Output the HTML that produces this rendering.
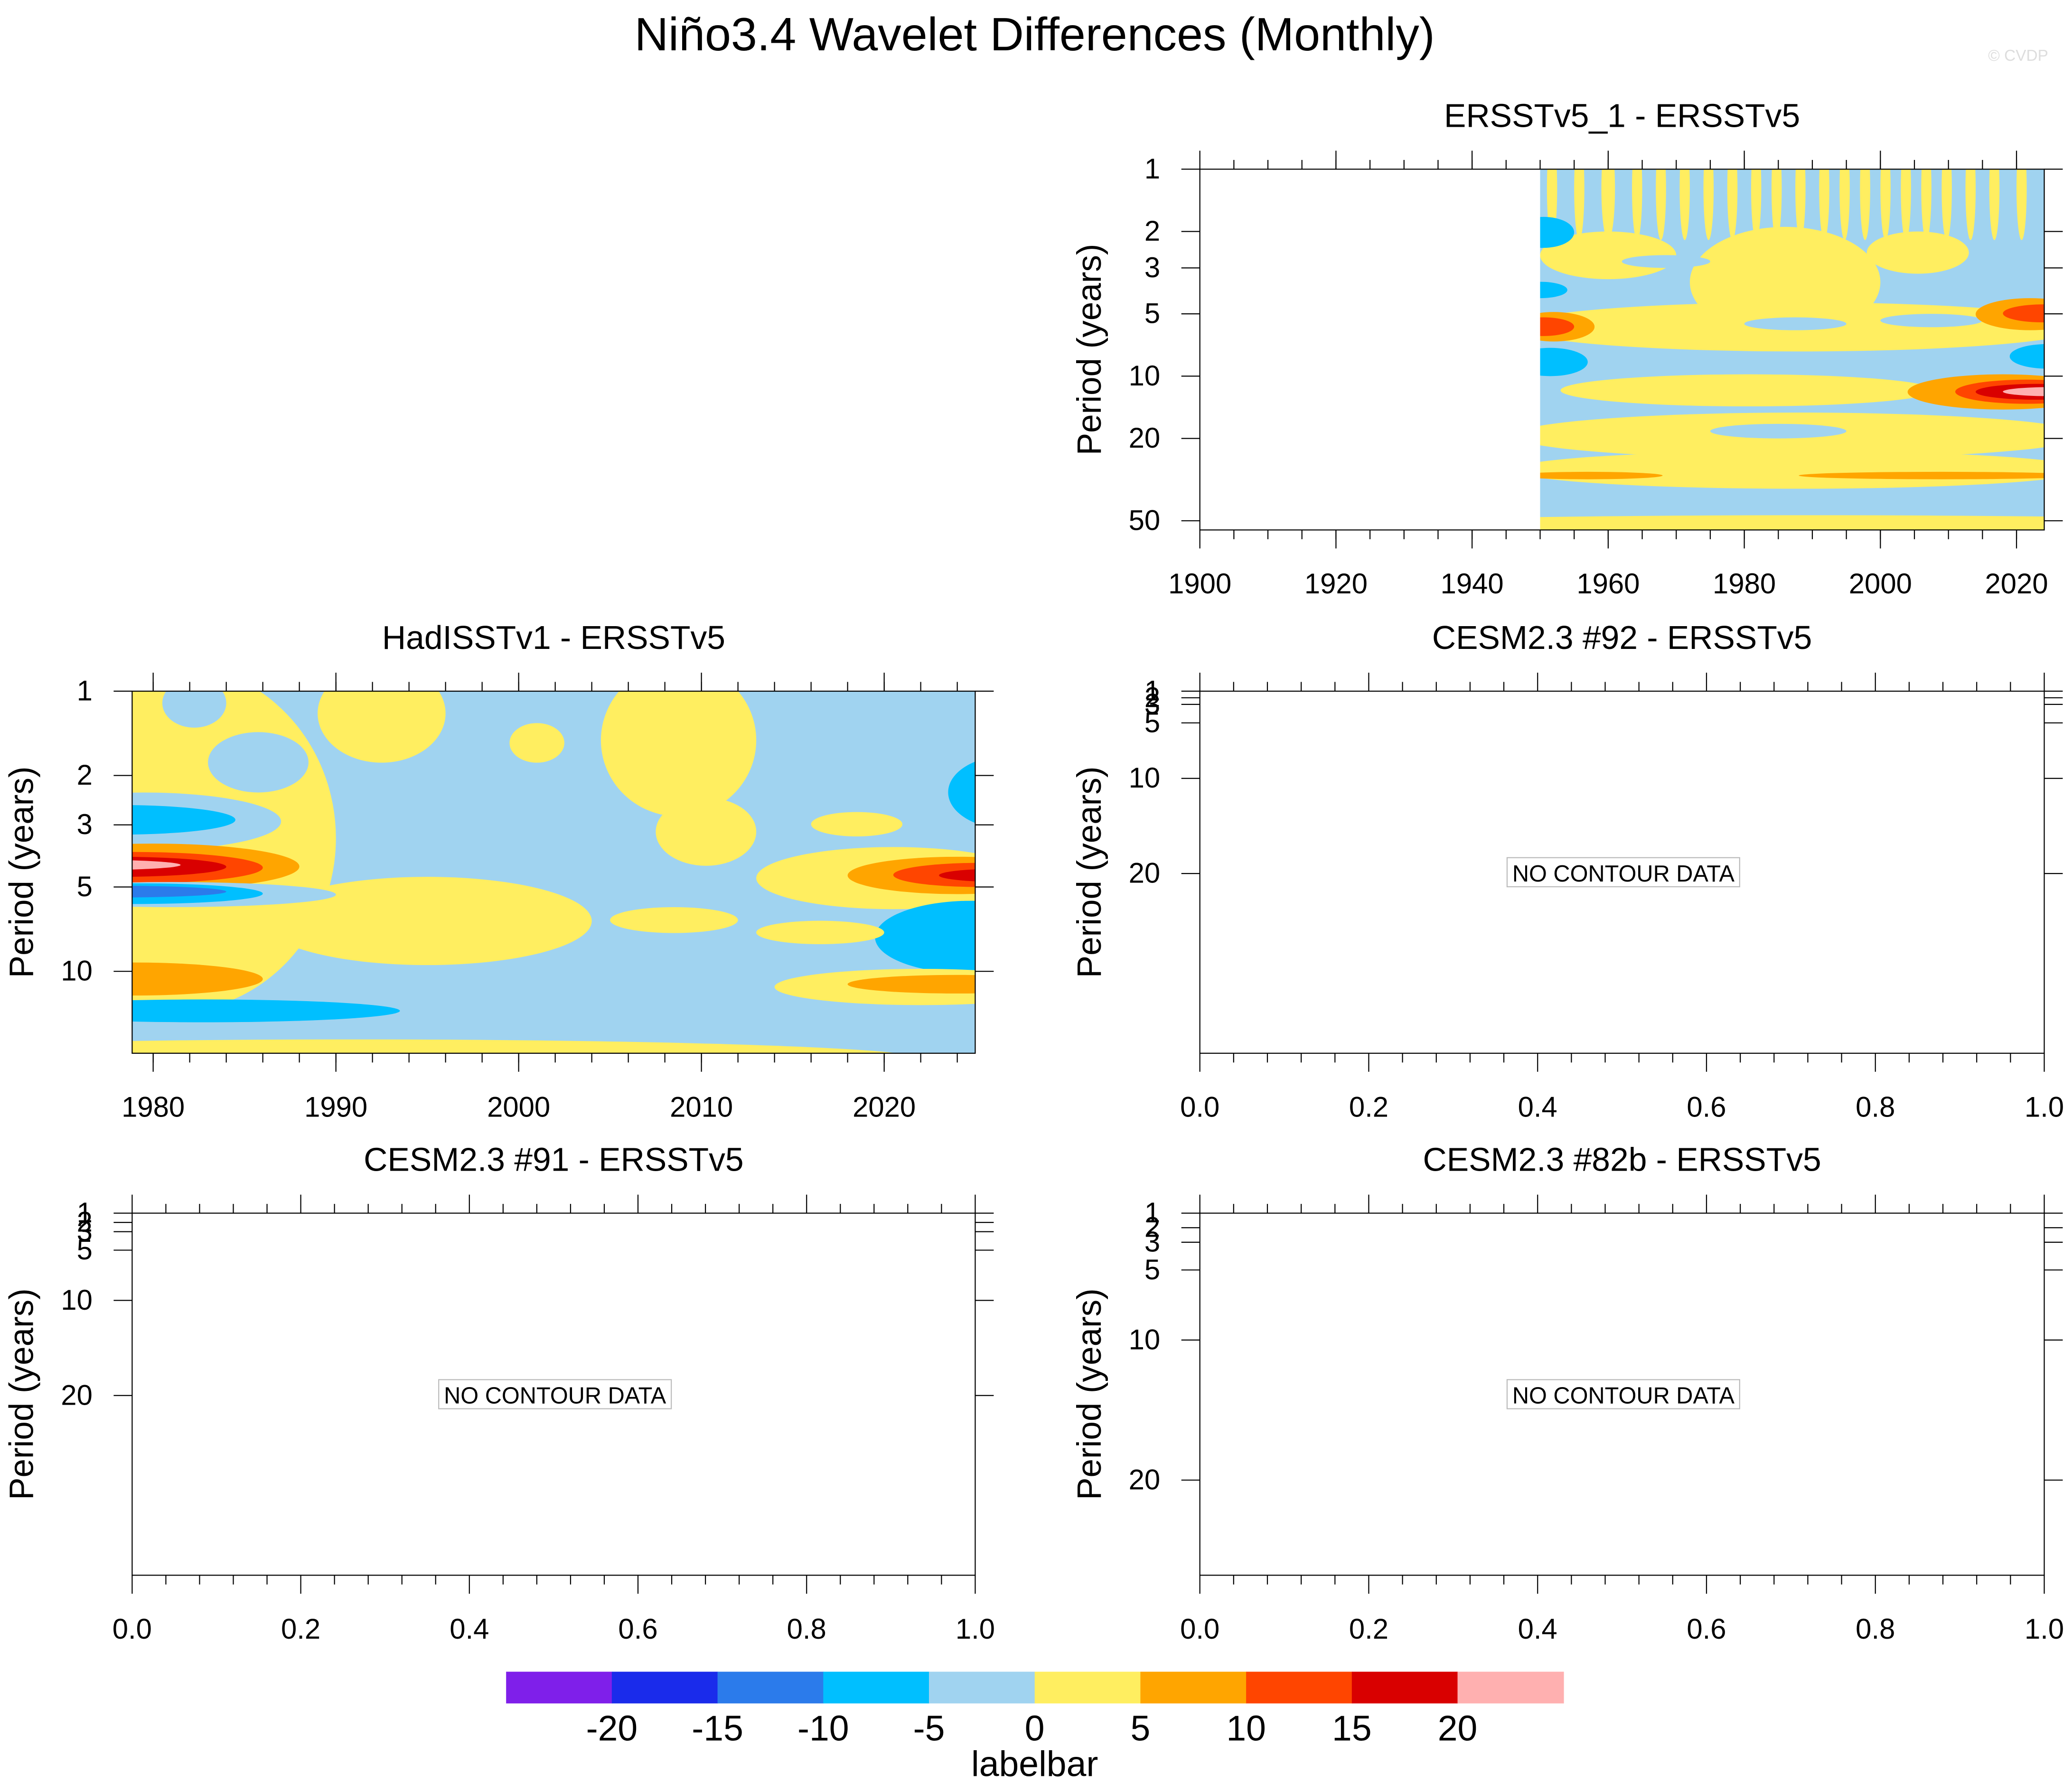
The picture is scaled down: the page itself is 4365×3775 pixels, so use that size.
<!DOCTYPE html>
<html><head><meta charset="utf-8"><style>html,body{margin:0;padding:0;background:#fff}svg{display:block}</style></head>
<body>
<svg id="fig" xmlns="http://www.w3.org/2000/svg" width="4365" height="3775" viewBox="0 0 1568 1356" font-family="Liberation Sans, Arial, sans-serif">
<rect width="1568" height="1356" fill="#fff"/>
<text x="783" y="38" font-size="35.5" text-anchor="middle">Niño3.4 Wavelet Differences (Monthly)</text>
<text x="1550" y="46" font-size="12" fill="#ddd" text-anchor="end">© CVDP</text>
<g id="panels"></g>
<g id="cbar"></g>
</svg>
<script>
// ---- data ----
const levelColors = ["#7F1FEA","#1A2BEB","#2B7BEB","#00BFFF","#A0D3F0","#FFEE60","#FFA500","#FF4500","#D90000","#FFB0B0"];
const levelBounds = [-20,-15,-10,-5,0,5,10,15,20];
const cbLabels = ["-20","-15","-10","-5","0","5","10","15","20"];
// blobs: [year0, year1, period0, period1, value]
const ersstBlobs = [
 [1951,1952.5,0.7,2.2,2.5],[1955,1956.5,0.7,2.2,2.5],[1959,1961,0.7,2.2,2.5],[1963.5,1965,0.7,2.2,2.5],
 [1967,1968.5,0.7,2.2,2.5],[1970.5,1972,0.7,2.2,2.5],[1974,1975.5,0.7,2.2,2.5],[1977.5,1979,0.7,2.2,2.5],
 [1981,1982.5,0.7,2.2,2.5],[1984,1985.5,0.7,2.2,2.5],[1987.5,1989,0.7,2.2,2.5],[1991,1992.5,0.7,2.2,2.5],
 [1994,1995.5,0.7,2.2,2.5],[1997,1998.5,0.7,2.2,2.5],[2000,2001.5,0.7,2.2,2.5],[2003,2004.5,0.7,2.2,2.5],
 [2006,2007.5,0.7,2.2,2.5],[2009,2010.5,0.7,2.2,2.5],[2012.5,2014,0.7,2.2,2.5],[2016,2017.5,0.7,2.2,2.5],[2020,2021.5,0.7,2.2,2.5],
 [1950,1970,2.0,3.4,2.5],[1972,2000,1.9,6.5,2.5],[1998,2013,2.0,3.2,2.5],[1946,2030,4.4,7.6,2.5],
 [1962,1975,2.6,3.0,-2.5],[1980,1995,5.2,6.0,-2.5],[2000,2015,5.0,5.8,-2.5],
 [1946,1955,1.7,2.4,-7.5],[1946,1954,3.5,4.2,-7.5],[1946,1958,4.9,6.8,7.5],[1946,1955,5.2,6.4,12.5],
 [1946,1957,7.3,10,-7.5],[2014,2030,4.2,6.0,7.5],[2018,2030,4.5,5.5,12.5],[2019,2030,7,9.2,-7.5],
 [1953,2008,9.8,14,2.5],[1946,2030,15,25,2.5],[1975,1995,17,20,-2.5],[1946,2030,23,35,2.5],
 [1946,1968,29,31.5,7.5],[1988,2030,29,31.5,7.5],
 [2004,2032,9.8,14.5,7.5],[2011,2032,10.4,13.6,12.5],[2014,2032,10.9,13.0,17.5],[2018,2032,11.3,12.5,22],
 [1900,2080,47,70,2.5]
];
const hadBlobs = [
 [1972,1990,0.8,14,2.5],[1986,2004,4.6,9.5,2.5],[1989,1996,0.8,1.8,2.5],[2004.5,2013,0.8,2.8,2.5],
 [2007.5,2013,2.4,4.2,2.5],[1999.5,2002.5,1.3,1.8,2.5],
 [1980.5,1984,0.9,1.35,-2.5],[1983,1988.5,1.4,2.3,-2.5],[1972,1987,2.3,3.7,-2.5],[1972,1984.5,2.55,3.25,-7.5],
 [1972,1988,3.5,5.1,7.5],[1972,1986,3.75,4.85,12.5],[1972,1984,3.9,4.6,17.5],[1972,1981.5,4.0,4.35,22],
 [1972,1990,4.8,5.9,-2.5],[1972,1986,4.85,5.75,-7.5],[1972,1984,4.95,5.45,-12.5],
 [1972,1986,9.3,12.2,7.5],[1972,1993.5,12.6,15.2,-7.5],[1960,2022,17.5,24,2.5],
 [2013,2028,3.6,6.0,2.5],[2018,2030,3.9,5.3,7.5],[2020.5,2030,4.1,5.0,12.5],[2023,2030,4.3,4.8,17.5],
 [2019.5,2030,5.6,10.2,-7.5],[2023.5,2030,1.7,3.1,-7.5],[2016,2021,2.7,3.3,2.5],
 [2005,2012,5.9,7.3,2.5],[2013,2020,6.6,8.0,2.5],[2014,2030,9.8,13.2,2.5],[2018,2030,10.3,12.0,7.5]
];
const ersstXTicks = [1900,1920,1940,1960,1980,2000,2020];
const hadXTicks = [1980,1990,2000,2010,2020];
const periodTicks = [1,2,3,5,10,20,50];
const unitXTicks = ["0.0","0.2","0.4","0.6","0.8","1.0"];

// ---- drawing ----
const NS="http://www.w3.org/2000/svg";
const root=document.getElementById('panels');
function mk(tag,attrs,parent){const e=document.createElementNS(NS,tag);for(const k in attrs)e.setAttribute(k,attrs[k]);(parent||root).appendChild(e);return e;}
function colorOf(v){let i=0;while(i<levelBounds.length&&v>=levelBounds[i])i++;return levelColors[i];}
let clipN=0;
function panel(p){
 const g=mk('g',{});
 
 
 const t=mk('text',{x:(p.x0+p.x1)/2,y:p.y0-32,'font-size':25,'text-anchor':'middle'},g);t.textContent=p.title;
 
 
 const id='c'+(clipN++);
 const cp=mk('clipPath',{id:id},g);mk('rect',{x:p.x0,y:p.y0,width:p.x1-p.x0,height:p.y1-p.y0},cp);
 const dg=mk('g',{'clip-path':'url(#'+id+')'},g);
 if(p.blobs){
  const bx0=Math.max(p.x0,p.xs(p.dataStart));
  const bg=mk('rect',{x:bx0,y:p.y0,width:p.x1-bx0,height:p.y1-p.y0,fill:levelColors[4]},dg);
  
  
  const dc=mk('clipPath',{id:id+'d'},g);mk('rect',{x:bx0,y:p.y0,width:p.x1-bx0,height:p.y1-p.y0},dc);
  const bgG=mk('g',{'clip-path':'url(#'+id+'d)'},dg);
  p.blobs.forEach(b=>{
   const xa=p.xs(b[0]),xb=p.xs(b[1]),ya=p.ys(b[2]),yb=p.ys(b[3]);
   const e=mk('ellipse',{cx:(xa+xb)/2,cy:(ya+yb)/2,rx:Math.abs(xb-xa)/2,ry:Math.abs(yb-ya)/2,fill:colorOf(b[4])},bgG);
   
   
  });
 }
 mk('rect',{x:p.x0,y:p.y0,width:p.x1-p.x0,height:p.y1-p.y0,fill:'none',stroke:'#000','stroke-width':0.8},g);
 const ax=mk('g',{stroke:'#000','stroke-width':0.8},g);
 p.xticks.forEach(tk=>{
  const x=p.xs(tk.v);
  mk('line',{x1:x,x2:x,y1:p.y1,y2:p.y1+14},ax);mk('line',{x1:x,x2:x,y1:p.y0,y2:p.y0-14},ax);
  const l=mk('text',{x:x,y:p.y1+48,'font-size':21.5,'text-anchor':'middle'},g);l.textContent=tk.label;
  
  
 });
 p.xminor.forEach(v=>{const x=p.xs(v);mk('line',{x1:x,x2:x,y1:p.y1,y2:p.y1+7},ax);mk('line',{x1:x,x2:x,y1:p.y0,y2:p.y0-7},ax);});
 p.yticks.forEach(tk=>{
  const y=tk.y;
  mk('line',{x1:p.x0-14,x2:p.x0,y1:y,y2:y},ax);mk('line',{x1:p.x1,x2:p.x1+14,y1:y,y2:y},ax);
  const l=mk('text',{x:p.x0-30,y:y+7,'font-size':21.5,'text-anchor':'end'},g);l.textContent=tk.label;
  
  
 });
 const yt=mk('text',{x:0,y:0,'font-size':25.5,'text-anchor':'middle',transform:`translate(${p.x0-75},${(p.y0+p.y1)/2}) rotate(-90)`},g);
 yt.textContent='Period (years)';
 
 
 if(p.nodata){
  const cx=(p.x0+p.x1)/2,cy=(p.y0+p.y1)/2;
  const r=mk('rect',{x:cx-87,y:cy-11,width:176,height:22,fill:'#fff',stroke:'#bbb','stroke-width':0.8},g);
  
  
  const t2=mk('text',{x:cx+1,y:cy+7,'font-size':17.5,'text-anchor':'middle'},g);t2.textContent='NO CONTOUR DATA';
  
  
 }
}
function range(a,b,s){const r=[];for(let v=a;v<=b+1e-9;v+=s)r.push(v);return r;}
{const x0=908,x1=1547,y0=128,y1=401;
 const xs=yr=>908+(yr-1900)*5.15, ys=pp=>128+Math.log10(pp)*156.6;
 panel({name:'panel-ersstv5-1',title:'ERSSTv5_1 - ERSSTv5',x0,x1,y0,y1,xs,ys,blobs:ersstBlobs,dataStart:1950,
  xticks:ersstXTicks.map(v=>({v,label:String(v)})),xminor:range(1905,2020,5),
  yticks:periodTicks.map(v=>({y:ys(v),label:String(v)}))});}
{const x0=100,x1=738,y0=523,y1=797;
 const xs=yr=>100+(yr-1978.85)*13.83, ys=pp=>523+Math.log10(pp)*212;
 panel({name:'panel-hadisst',title:'HadISSTv1 - ERSSTv5',x0,x1,y0,y1,xs,ys,blobs:hadBlobs,dataStart:1978.85,
  xticks:hadXTicks.map(v=>({v,label:String(v)})),xminor:range(1980,2024,2),
  yticks:periodTicks.slice(0,5).map(v=>({y:ys(v),label:String(v)}))});}
const emptyPanels=[
 {name:'panel-cesm-92',title:'CESM2.3 #92 - ERSSTv5',x0:908,x1:1547,y0:523,y1:797,py:[523,528,533,547,589,661]},
 {name:'panel-cesm-91',title:'CESM2.3 #91 - ERSSTv5',x0:100,x1:738,y0:918,y1:1192,py:[918,925,932,946,984,1056]},
 {name:'panel-cesm-82b',title:'CESM2.3 #82b - ERSSTv5',x0:908,x1:1547,y0:918,y1:1192,py:[918,929,940,961,1014,1120]}
];
emptyPanels.forEach(e=>{
 const xs=v=>e.x0+v*(e.x1-e.x0);
 panel({name:e.name,title:e.title,x0:e.x0,x1:e.x1,y0:e.y0,y1:e.y1,xs,ys:null,nodata:true,
  xticks:unitXTicks.map(s=>({v:parseFloat(s),label:s})),xminor:range(0.04,0.96,0.04).filter(v=>Math.abs(v*5-Math.round(v*5))>1e-6),
  yticks:e.py.map((y,i)=>({y,label:String(periodTicks[i])}))});
});
{const cb=document.getElementById('cbar');
 levelColors.forEach((c,i)=>{const r=mk('rect',{x:383+i*80,y:1265,width:80.5,height:24,fill:c},cb);
  
  });
 cbLabels.forEach((s,i)=>{const t=mk('text',{x:463+i*80,y:1317,'font-size':27,'text-anchor':'middle'},cb);t.textContent=s;
  
  });
 const t=mk('text',{x:783,y:1344,'font-size':27,'text-anchor':'middle'},cb);t.textContent='labelbar';
 
 }
</script>
</body></html>
